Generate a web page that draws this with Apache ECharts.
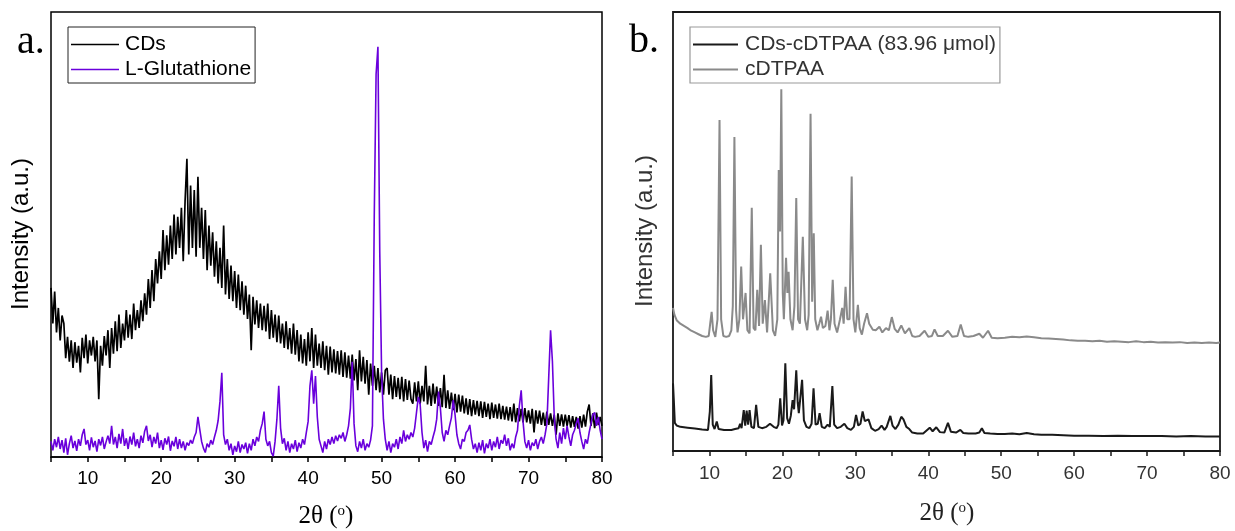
<!DOCTYPE html>
<html>
<head>
<meta charset="utf-8">
<script src="https://cdn.jsdelivr.net/npm/echarts@6.0.0/dist/echarts.min.js"></script>
<style>
  html, body { margin: 0; padding: 0; background: #fff; }
  #chart { width: 1235px; height: 531px; }
</style>
</head>
<body>
<div id="chart"></div>
<script>
// panel a: both scans share the 2theta grid 5..80, step 0.25
const scanStart = 5;
const scanStep = 0.25;

const cdsA = [
  380,300,372,280, 335,262,318,300, 222,270,214,262, 200,258,212,250, 190,268,222,275,
  210,262,228,270, 215,262,130,250, 205,272,228,285, 200,290,232,305, 238,320,245,300,
  262,330,268,320, 265,345,285,330, 290,352,305,368, 320,400,335,420, 350,445,390,462,
  400,510,420,498, 432,520,445,545, 455,540,470,560, 440,575,670,455, 610,470,600,450,
  630,470,560,445, 555,420,520,430, 505,405,485,390, 470,380,520,365, 445,355,430,350,
  418,335,410,330, 395,320,385,310, 365,240,360,298, 352,290,345,285, 340,282,345,265,
  330,268,320,258, 318,255,300,245, 305,242,290,232, 300,230,285,215, 275,210,265,205,
  280,215,290,200, 275,205,255,200, 260,195,250,185, 248,190,242,188, 238,185,240,180,
  235,178,228,176, 230,172,220,150, 240,170,225,165, 218,140,210,160, 205,150,200,145,
  190,140,195,200, 140,185,130,182, 135,178,130,180, 125,175,128,172, 130,120,168,125,
  170,120,160,125, 205,118,160,115, 165,120,158,115, 155,112,185,110, 150,108,145,105,
  142,100,140,102, 138,98,132,95, 130,92,128,95, 126,92,125,88, 124,90,120,85,
  122,88,118,86, 120,85,115,84, 113,82,112,80, 120,78,110,80, 108,78,110,78,
  105,75,108,55, 105,75,104,72, 100,70,102,72, 98,70,95,50, 98,70,96,68,
  95,70,94,66, 92,68,90,64, 92,66,95,68, 102,118,70,98, 65,100,72,90,
  70
];

const glutathioneA = [
  35,15,40,22, 45,18,38,10, 42,5,30,48, 20,36,14,40, 25,50,63,28,
  38,15,44,22, 36,12,40,26, 45,18,34,48, 30,70,28,45, 20,52,30,63,
  25,42,18,46, 28,55,24,40, 20,48,32,58, 70,36,50,22, 45,30,55,20,
  38,16,42,28, 46,14,36,24, 45,18,40,20, 35,15,32,26, 38,30,45,55,
  90,62,35,20, 10,30,22,38, 28,45,60,82, 125,189,50,28, 40,15,30,5,
  25,12,35,10, 28,18,32,8, 30,15,40,25, 45,35,60,75, 102,40,25,35,
  10,2,35,85, 160,65,30,42, 15,35,10,30, 18,38,12,32, 20,40,28,55,
  80,160,195,120, 182,90,40,25, 10,35,18,40, 28,45,30,48, 36,50,42,55,
  35,50,70,110, 214,75,25,12, 35,20,40,15, 30,22,38,70, 540,860,922,460,
  190,85,40,15, 35,10,30,22, 40,18,45,30, 60,35,50,40, 55,45,65,100,
  135,118,55,20, 38,12,35,28, 45,60,85,147, 110,55,35,60, 50,70,88,128,
  95,50,30,18, 40,35,55,60, 72,40,18,30, 10,32,15,38, 8,30,20,40,
  15,35,22,45, 18,38,30,50, 25,42,15,30, 20,45,60,115, 150,80,35,20,
  38,15,32,25, 40,18,35,45, 30,50,75,180, 285,215,90,40, 20,55,30,65,
  40,70,45,25, 50,60,75,87, 55,35,18,40, 30,55,75,95, 100,70,90,60,
  40
];

// panel b: [2theta, intensity]
const cdsCdtpaaB = [
  [5.0,154],[5.1,120],[5.25,64],[5.5,58],[6.0,55],[7.0,53],[8.0,51],[9.0,49],[9.8,48],
  [10.05,90],[10.24,173],[10.45,60],[10.7,50],[11.0,67],[11.25,50],[12.0,48],[13.0,48],
  [13.5,50],[14.0,52],[14.2,62],[14.4,52],[14.7,93],[14.9,58],[15.1,92],[15.3,60],
  [15.5,93],[15.75,55],[16.1,52],[16.4,105],[16.7,55],[17.2,52],[17.8,55],[18.3,62],
  [18.8,55],[19.2,52],[19.45,60],[19.7,120],[19.95,58],[20.15,70],[20.4,200],[20.65,75],
  [20.9,62],[21.15,80],[21.4,116],[21.6,95],[21.9,184],[22.1,110],[22.25,86],[22.45,120],
  [22.7,162],[22.95,70],[23.3,55],[23.7,52],[24.0,62],[24.27,143],[24.55,60],[24.85,62],
  [25.1,86],[25.4,55],[25.8,52],[26.2,60],[26.5,55],[26.85,148],[27.1,60],[27.5,52],
  [28.0,55],[28.5,62],[28.9,52],[29.4,48],[29.8,55],[30.1,82],[30.4,58],[30.7,62],
  [31.0,90],[31.3,68],[31.8,72],[32.2,52],[32.7,46],[33.2,50],[33.6,58],[34.0,48],
  [34.3,55],[34.8,80],[35.1,58],[35.5,50],[35.9,60],[36.3,78],[36.6,72],[37.0,55],
  [37.4,50],[37.8,42],[38.5,40],[39.3,40],[40.2,53],[40.6,45],[41.1,54],[41.6,43],
  [42.2,42],[42.7,64],[43.1,44],[43.8,42],[44.4,48],[44.8,41],[45.5,40],[46.5,40],
  [47.0,42],[47.35,52],[47.7,41],[48.5,40],[49.5,39],[50.5,39],[51.5,40],[52.5,38],
  [53.5,41],[54.5,38],[55.5,37],[57.0,37],[58.5,36],[60.0,35],[62.0,35],[64.0,34],
  [66.0,35],[68.0,34],[70.0,34],[72.0,34],[74.0,33],[76.0,34],[78.0,33],[80.0,33]
];

const cdtpaaB = [
  [5.0,326],[5.2,310],[5.5,298],[6.0,290],[6.5,285],[7.0,280],[7.5,274],[8.0,270],
  [8.5,266],[9.0,262],[9.5,260],[9.9,262],[10.1,290],[10.3,317],[10.5,275],[10.8,260],
  [11.1,300],[11.38,754],[11.6,300],[11.9,262],[12.3,260],[12.7,262],[13.0,275],[13.2,330],
  [13.42,715],[13.65,320],[13.85,270],[14.1,300],[14.35,420],[14.6,300],[14.95,360],[15.2,275],
  [15.5,268],[15.8,554],[16.05,280],[16.3,275],[16.55,367],[16.8,285],[17.05,470],[17.3,290],
  [17.6,344],[17.9,270],[18.33,405],[18.7,275],[19.0,262],[19.3,300],[19.5,640],[19.68,500],
  [19.85,824],[20.05,360],[20.2,300],[20.5,440],[20.68,360],[20.85,408],[21.1,300],[21.4,275],
  [21.65,330],[21.9,576],[22.15,300],[22.4,290],[22.8,488],[23.1,300],[23.4,275],[23.6,310],
  [23.86,768],[24.08,340],[24.3,496],[24.5,300],[24.8,275],[25.05,290],[25.3,306],[25.55,280],
  [25.9,285],[26.2,320],[26.45,275],[26.65,300],[26.9,390],[27.15,290],[27.5,270],[27.9,300],
  [28.2,326],[28.4,290],[28.66,374],[28.9,300],[29.2,300],[29.5,625],[29.75,300],[30.0,270],
  [30.35,333],[30.6,280],[30.9,265],[31.2,290],[31.6,314],[31.9,290],[32.4,276],[32.8,275],
  [33.3,283],[33.7,270],[34.2,280],[34.6,275],[35.0,305],[35.4,278],[35.8,270],[36.3,286],
  [36.8,268],[37.4,280],[37.8,262],[38.2,260],[38.8,262],[39.5,274],[40.0,260],[40.5,262],
  [40.86,277],[41.3,262],[42.0,262],[42.7,274],[43.3,260],[44.0,262],[44.45,288],[44.9,262],
  [45.5,260],[46.2,262],[47.0,267],[47.5,258],[48.2,274],[48.7,258],[49.5,257],[50.5,258],
  [51.5,260],[52.5,259],[53.5,261],[54.5,259],[55.5,257],[56.5,256],[57.5,255],[58.5,254],
  [59.5,252],[60.5,251],[61.5,251],[62.5,250],[63.5,251],[64.5,249],[65.5,250],[66.5,249],
  [67.5,248],[68.5,250],[69.5,248],[70.5,249],[71.5,247],[72.5,248],[73.5,247],[74.5,248],
  [75.5,246],[76.5,247],[77.5,246],[78.5,247],[79.5,246],[80.0,247]
];

const sans = 'Liberation Sans';
const serif = 'Liberation Serif';

function onGrid(values) {
  return values.map((v, i) => [scanStart + scanStep * i, v]);
}

function makeX(gridIndex, axisColor, labelColor, margin) {
  return {
    gridIndex: gridIndex,
    type: 'value',
    min: 5,
    max: 80,
    interval: 5,
    axisLine: { lineStyle: { color: axisColor, width: 1.5 } },
    axisTick: { inside: false, length: 5, lineStyle: { color: axisColor, width: 1.5 } },
    splitLine: { show: false },
    axisLabel: {
      margin: margin,
      fontSize: 19,
      fontFamily: sans,
      color: labelColor,
      formatter: v => (v % 10 === 0 ? String(v) : '')
    }
  };
}

function makeY(gridIndex) {
  return { gridIndex: gridIndex, type: 'value', min: 0, max: 1000, show: false };
}

const chart = echarts.init(document.getElementById('chart'));

chart.setOption({
  animation: false,
  backgroundColor: '#fff',
  grid: [
    { left: 51, top: 12, width: 551, height: 445, show: true, borderColor: '#000', borderWidth: 1.5 },
    { left: 673, top: 12, width: 547, height: 439, show: true, borderColor: '#1a1a1a', borderWidth: 1.8 }
  ],
  xAxis: [makeX(0, '#000', '#000', 12), makeX(1, '#1a1a1a', '#333', 13)],
  yAxis: [makeY(0), makeY(1)],
  legend: [
    {
      data: ['CDs', 'L-Glutathione'],
      orient: 'vertical',
      left: 68,
      top: 27,
      icon: 'rect',
      itemWidth: 48,
      itemHeight: 1.5,
      itemGap: 4,
      padding: [7, 4, 3, 3],
      borderColor: '#222',
      borderWidth: 1,
      selectedMode: false,
      textStyle: { fontSize: 21, fontFamily: sans, color: '#000', padding: [0, 0, 0, 1] }
    },
    {
      data: ['CDs-cDTPAA (83.96 μmol)', 'cDTPAA'],
      orient: 'vertical',
      left: 690,
      top: 27,
      icon: 'rect',
      itemWidth: 45,
      itemHeight: 2,
      itemGap: 4,
      padding: [7, 4, 3, 3],
      borderColor: '#999',
      borderWidth: 1.2,
      selectedMode: false,
      textStyle: { fontSize: 21, fontFamily: sans, color: '#333', padding: [0, 0, 0, 2] }
    }
  ],
  series: [
    {
      name: 'CDs', type: 'line', xAxisIndex: 0, yAxisIndex: 0,
      data: onGrid(cdsA), symbol: 'none', color: '#000',
      lineStyle: { color: '#000', width: 1.7 }
    },
    {
      name: 'L-Glutathione', type: 'line', xAxisIndex: 0, yAxisIndex: 0,
      data: onGrid(glutathioneA), symbol: 'none', color: '#6a00dc',
      lineStyle: { color: '#6a00dc', width: 1.6 }
    },
    {
      name: 'CDs-cDTPAA (83.96 μmol)', type: 'line', xAxisIndex: 1, yAxisIndex: 1,
      data: cdsCdtpaaB, symbol: 'none', color: '#1a1a1a',
      lineStyle: { color: '#1a1a1a', width: 2 }
    },
    {
      name: 'cDTPAA', type: 'line', xAxisIndex: 1, yAxisIndex: 1,
      data: cdtpaaB, symbol: 'none', color: '#8a8a8a',
      lineStyle: { color: '#8a8a8a', width: 2 }
    }
  ],
  graphic: [
    { type: 'text', left: 17, top: 22, style: { text: 'a.', font: '40px "Liberation Serif"', fill: '#000' } },
    { type: 'text', left: 629, top: 21, style: { text: 'b.', font: '40px "Liberation Serif"', fill: '#000' } },
    {
      type: 'text', x: 21, y: 234, rotation: Math.PI / 2,
      style: { text: 'Intensity (a.u.)', font: '24px "Liberation Sans"', fill: '#000', align: 'center', verticalAlign: 'middle' }
    },
    {
      type: 'text', x: 645, y: 231, rotation: Math.PI / 2,
      style: { text: 'Intensity (a.u.)', font: '24px "Liberation Sans"', fill: '#333', align: 'center', verticalAlign: 'middle' }
    },
    {
      type: 'text', x: 326, y: 516,
      style: {
        text: '2θ ({s|o})', font: '25px "Liberation Serif"', fill: '#000', align: 'center', verticalAlign: 'middle',
        rich: { s: { fontSize: 15, fontFamily: serif, verticalAlign: 'top', fill: '#000' } }
      }
    },
    {
      type: 'text', x: 947, y: 513,
      style: {
        text: '2θ ({s|o})', font: '25px "Liberation Serif"', fill: '#222', align: 'center', verticalAlign: 'middle',
        rich: { s: { fontSize: 15, fontFamily: serif, verticalAlign: 'top', fill: '#222' } }
      }
    }
  ]
});
</script>
</body>
</html>
